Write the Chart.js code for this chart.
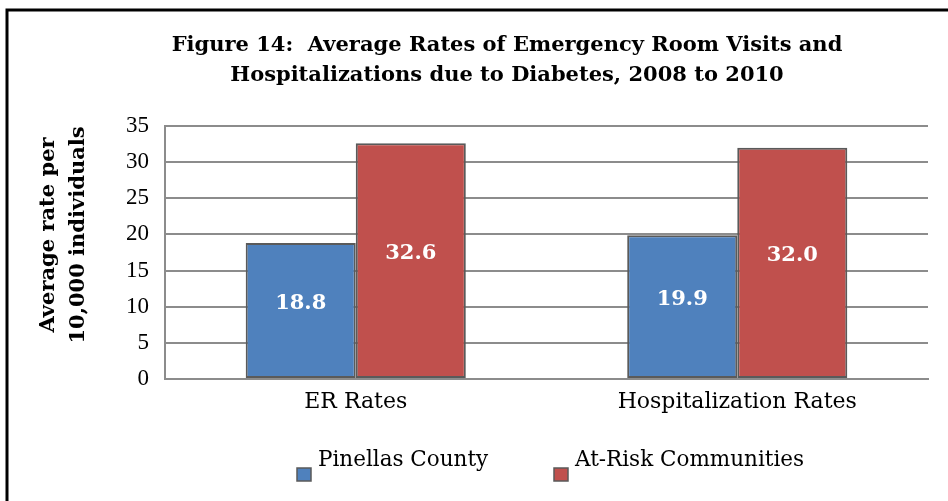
<!DOCTYPE html>
<html>
<head>
<meta charset="utf-8">
<script src="https://cdn.jsdelivr.net/npm/chart.js@4.4.0/dist/chart.umd.min.js"></script>
<style>
  html, body { margin: 0; padding: 0; background: #fff; }
  #wrap { width: 948px; height: 501px; position: relative; }
</style>
</head>
<body>
<div id="wrap"><canvas id="chart" width="948" height="501"></canvas></div>
<script>
// ===== Figure 14: ER visits & hospitalizations due to diabetes =====

const categories = ['ER Rates', 'Hospitalization Rates'];
const pinellas = [18.8, 19.9];
const atRisk = [32.6, 32.0];
const seriesNames = ['Pinellas County', 'At-Risk Communities'];
const titleLines = [
  'Figure 14:  Average Rates of Emergency Room Visits and',
  'Hospitalizations due to Diabetes, 2008 to 2010'
];
const yTitleLines = ['Average rate per', '10,000 individuals'];
const yMin = 0, yMax = 35, yStep = 5;

const SERIF = "'Liberation Serif', 'Times New Roman', serif";
const WIDE = "'DejaVu Serif', serif";
const BLUE = '#4f81bd';
const RED = '#c0504d';
const EDGE = '#5a5a5a';
const GRID = '#8c8c8c';

// --- decorations drawn straight on the canvas ---
const decor = {
  id: 'decor',
  beforeDraw(chart) {
    const ctx = chart.ctx;
    ctx.save();
    ctx.fillStyle = '#fff';
    ctx.fillRect(0, 0, chart.width, chart.height);
    // outer frame (only left/top visible in the crop)
    ctx.strokeStyle = '#000';
    ctx.lineWidth = 3;
    ctx.beginPath();
    ctx.moveTo(7, chart.height + 5);
    ctx.lineTo(7, 10);
    ctx.lineTo(chart.width + 5, 10);
    ctx.stroke();
    ctx.restore();
  },
  afterDraw(chart) {
    const ctx = chart.ctx;
    ctx.save();
    ctx.fillStyle = '#000';
    ctx.textAlign = 'center';
    ctx.textBaseline = 'middle';

    // title
    ctx.font = 'bold 21px ' + WIDE;
    titleLines.forEach((t, i) => ctx.fillText(t, 507, 46 + i * 30));

    // y axis title
    ctx.save();
    ctx.translate(64, 235);
    ctx.rotate(-Math.PI / 2);
    ctx.font = 'bold 21px ' + WIDE;
    yTitleLines.forEach((t, i) => ctx.fillText(t, 0, -15 + i * 30));
    ctx.restore();

    // legend
    ctx.font = '21.5px ' + WIDE;
    ctx.textAlign = 'left';
    const items = [
      { x: 297, color: BLUE, text: seriesNames[0] },
      { x: 554, color: RED, text: seriesNames[1] }
    ];
    items.forEach(it => {
      ctx.fillStyle = it.color;
      ctx.fillRect(it.x, 468, 14, 13);
      ctx.strokeStyle = EDGE;
      ctx.lineWidth = 1.5;
      ctx.strokeRect(it.x, 468, 14, 13);
      ctx.fillStyle = '#000';
      ctx.fillText(it.text, it.x + 21, 460);
    });
    ctx.restore();
  },
  afterDatasetsDraw(chart) {
    const ctx = chart.ctx;
    ctx.save();
    ctx.fillStyle = '#fff';
    ctx.font = 'bold 21px ' + WIDE;
    ctx.textAlign = 'center';
    ctx.textBaseline = 'middle';
    chart.data.datasets.forEach((ds, di) => {
      chart.getDatasetMeta(di).data.forEach((bar, i) => {
        const mid = (bar.y + bar.base) / 2 - 7;
        ctx.fillText(ds.data[i].toFixed(1), bar.x, mid);
      });
    });
    ctx.restore();
  }
};

new Chart(document.getElementById('chart').getContext('2d'), {
  type: 'bar',
  data: {
    labels: categories,
    datasets: [
      {
        label: seriesNames[0],
        data: pinellas,
        backgroundColor: BLUE,
        borderColor: EDGE,
        borderWidth: 2,
        borderSkipped: false
      },
      {
        label: seriesNames[1],
        data: atRisk,
        backgroundColor: RED,
        borderColor: EDGE,
        borderWidth: 2,
        borderSkipped: false
      }
    ]
  },
  options: {
    responsive: false,
    animation: false,
    devicePixelRatio: 1,
    categoryPercentage: 0.577,
    barPercentage: 1,
    layout: { padding: { left: 0, top: 126, right: 20, bottom: 82 } },
    plugins: {
      legend: { display: false },
      title: { display: false },
      tooltip: { enabled: false }
    },
    scales: {
      x: {
        grid: { display: false, drawTicks: false },
        border: { display: true, color: GRID, width: 2 },
        ticks: { color: '#000', font: { family: WIDE, size: 22 }, padding: 10 },
        afterFit: s => { s.height = 40; }
      },
      y: {
        min: yMin,
        max: yMax,
        ticks: {
          stepSize: yStep,
          color: '#000',
          font: { family: SERIF, size: 23 },
          padding: 16
        },
        grid: { color: GRID, lineWidth: 2, drawTicks: false },
        border: { display: true, color: GRID, width: 2 },
        afterFit: s => { s.width = 165; }
      }
    }
  },
  plugins: [decor]
});
</script>
</body>
</html>
